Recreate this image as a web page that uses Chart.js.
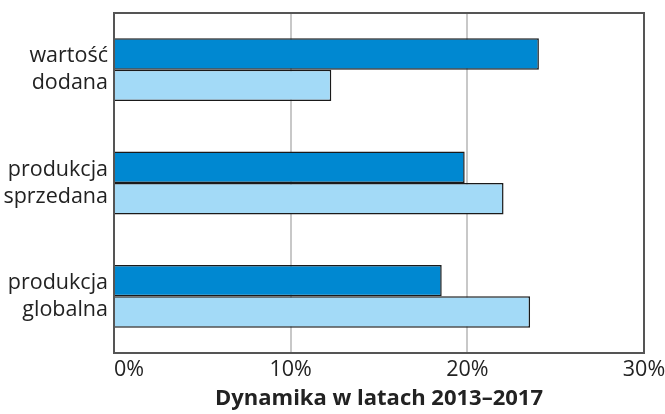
<!DOCTYPE html>
<html>
<head>
<meta charset="utf-8">
<script src="https://cdn.jsdelivr.net/npm/chart.js@4"></script>
<style>
html,body{margin:0;padding:0;background:#fff;}
#wrap{width:665px;height:414px;}
</style>
</head>
<body>
<div id="wrap"><canvas id="c" width="665" height="414"></canvas></div>
<script>
const categories = [["wartość","dodana"],["produkcja","sprzedana"],["produkcja","globalna"]];
const seriesDark = [24.05, 19.85, 18.55];
const seriesLight = [12.3, 22.05, 23.55];
const xTicks = [0, 10, 20, 30];
const axisTitle = "Dynamika w latach 2013–2017";

const framePlugin = {
  id: 'frame',
  beforeDraw(chart) {
    const s = chart.scales.x;
    const items = s.getLabelItems(chart.chartArea);
    if (items && items.length) { items[0].options.textAlign = 'left'; }
  },
  afterDatasetsDraw(chart) {
    const a = chart.chartArea, ctx = chart.ctx;
    ctx.save();
    ctx.strokeStyle = '#555555';
    ctx.lineWidth = 2;
    ctx.strokeRect(a.left, a.top, a.right - a.left, a.bottom - a.top);
    ctx.restore();
  }
};

new Chart(document.getElementById('c'), {
  type: 'bar',
  data: {
    labels: categories,
    datasets: [
      {data: seriesDark, backgroundColor: '#0088D1', borderColor: '#1a1a1a', borderWidth: 1.5},
      {data: seriesLight, backgroundColor: '#A3DAF7', borderColor: '#1a1a1a', borderWidth: 1.5}
    ]
  },
  options: {
    indexAxis: 'y',
    responsive: false,
    animation: false,
    categoryPercentage: 0.555,
    barPercentage: 1,
    layout: {padding: {top: 13, right: 21, bottom: 2, left: 0}},
    plugins: {legend: {display: false}, tooltip: {enabled: false}},
    scales: {
      x: {
        min: 0, max: 30,
        afterBuildTicks: s => { s.ticks = xTicks.map(v => ({value: v})); },
        afterFit: s => { s.paddingRight = 0; s.paddingLeft = 0; s.height = 59; },
        ticks: {
          callback: v => v + '%',
          color: '#222', padding: 6,
          font: {family: 'Open Sans', size: 21.5, lineHeight: 1.0}
        },
        grid: {
          drawTicks: false,
          color: c => (c.tick && (c.tick.value === 10 || c.tick.value === 20)) ? '#c8c8c8' : 'rgba(0,0,0,0)',
          lineWidth: 2
        },
        border: {display: false},
        title: {
          display: true, text: axisTitle, color: '#222',
          font: {family: 'Open Sans', size: 22, weight: 'bold', lineHeight: 0.75},
          padding: {top: 0, bottom: 5}
        }
      },
      y: {
        afterFit: s => { s.width = 114; s.paddingTop = 0; s.paddingBottom = 0; },
        ticks: {
          color: '#222', padding: 6,
          font: {family: 'Open Sans', size: 21.5, lineHeight: 1.25}
        },
        grid: {display: false, drawTicks: false},
        border: {display: false}
      }
    }
  },
  plugins: [framePlugin]
});
</script>
</body>
</html>
